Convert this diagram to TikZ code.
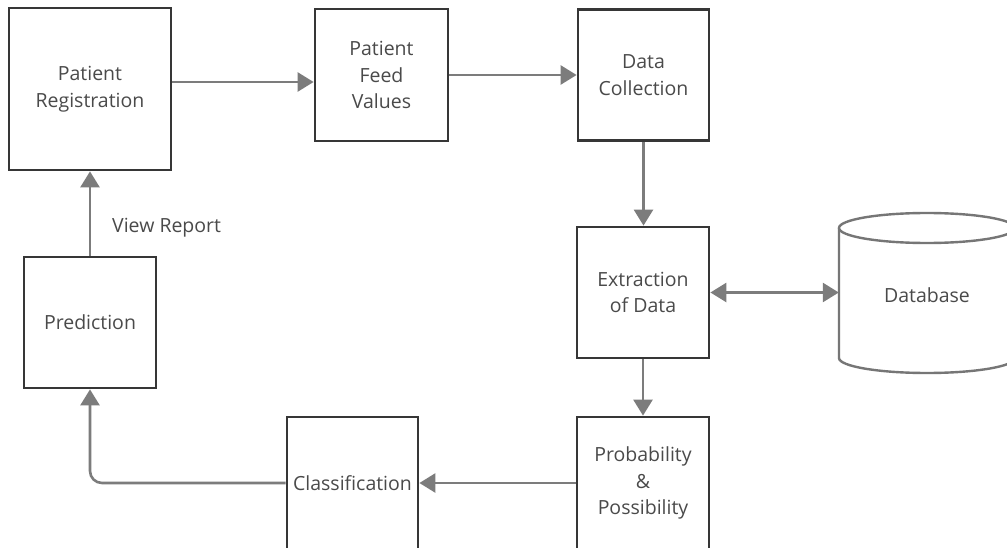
\documentclass[tikz,border=0pt]{standalone}
\usepackage{fontspec}
\setmainfont{Open Sans}
\usetikzlibrary{arrows.meta,calc}
\definecolor{boxline}{HTML}{363636}
\definecolor{arrowgray}{HTML}{7C7C7C}
\definecolor{txtgray}{HTML}{4A4A4A}
\definecolor{dbline}{HTML}{767676}
\tikzset{
  procbox/.style={draw=boxline, line width=2.8pt, fill=white, inner sep=0pt,
    align=center, text=txtgray, font=\fontsize{19.5}{26.5}\selectfont},
  flow/.style={draw=arrowgray, line width=2.6pt,
    -{Triangle[length=16pt,width=19pt]}},
  biflow/.style={draw=arrowgray, line width=2.6pt,
    {Triangle[length=16pt,width=19pt]}-{Triangle[length=16pt,width=19pt]}},
  lbl/.style={text=txtgray, font=\fontsize{19.5}{26.5}\selectfont, inner sep=0pt}
}
\begin{document}
\begin{tikzpicture}[x=1pt,y=-1pt]
\useasboundingbox (0,0) rectangle (1007,548);
\clip (0,0) rectangle (1007,548);
\fill[white] (0,0) rectangle (1007,548);

\node[procbox, minimum width=162pt, minimum height=162pt] (reg) at (90,89) {Patient\\Registration};
\node[procbox, minimum width=133pt, minimum height=132pt] (feed) at (381.5,75) {Patient\\Feed\\Values};
\node[procbox, minimum width=131pt, minimum height=131pt] (dc) at (643.5,75) {Data\\Collection};
\node[procbox, minimum width=132pt, minimum height=131pt] (ext) at (643,292.5) {Extraction\\of Data};
\node[procbox, minimum width=132pt, minimum height=132pt] (prob) at (643,483) {Probability\\\&\\Possibility};
\node[procbox, minimum width=131pt, minimum height=132pt] (cls) at (352.5,483) {Classification};
\node[procbox, minimum width=132pt, minimum height=131pt] (pred) at (90,322.5) {Prediction};

% Database cylinder
\draw[draw=dbline, line width=2.4pt, fill=white]
  (839,228) -- (839,358) arc[start angle=180, end angle=360, x radius=88pt, y radius=15pt]
  -- (1015,228);
\draw[draw=dbline, line width=2.4pt] (927,228) ellipse[x radius=88pt, y radius=15pt];
\node[lbl, minimum width=176pt, minimum height=145pt] (db) at (927,295) {Database};

% connectors
\draw[flow] ([yshift=7pt]reg.east) -- ([yshift=-7pt]feed.west);
\draw[flow] (feed.east) -- (dc.west);
\draw[flow] (dc.south) -- (dc.south |- ext.north);
\draw[biflow] (ext.east) -- (db.west |- ext.east);
\draw[flow] (ext.south) -- (ext.south |- prob.north);
\draw[flow] (prob.west) -- (cls.east);
\draw[flow, rounded corners=12pt] (cls.west) -- (pred.south |- cls.west) -- (pred.south);
\draw[flow] (pred.north) -- (reg.south);
\node[lbl, anchor=west] (vr) at (112,228) {View Report};
\end{tikzpicture}
\end{document}
